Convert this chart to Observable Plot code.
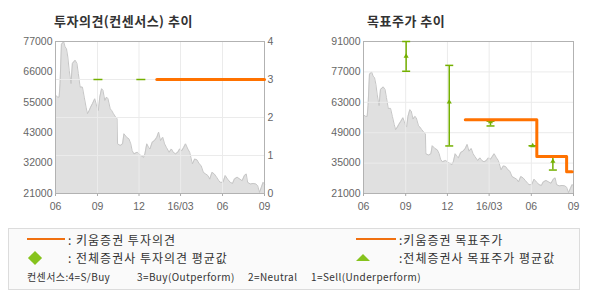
<!DOCTYPE html>
<html><head><meta charset="utf-8">
<script src="https://cdn.jsdelivr.net/npm/d3@7"></script>
<script src="https://cdn.jsdelivr.net/npm/@observablehq/plot@0.6"></script>
<style>
body{margin:0;width:590px;height:300px;position:relative;background:#fff;font-family:"Noto Sans CJK KR",sans-serif;overflow:hidden}
.abs{position:absolute}
.title{font-size:13px;font-weight:bold;color:#333;line-height:14px;white-space:pre;letter-spacing:0.5px}
.leg{font-size:12px;color:#333;line-height:13px;white-space:pre;letter-spacing:1px}
.leg3{font-size:10px;color:#333;line-height:12px;white-space:pre;letter-spacing:0.4px}
</style></head><body>
<div id="left1" class="abs" style="left:0;top:0"></div>
<div id="left2" class="abs" style="left:0;top:0"></div>
<div id="right1" class="abs" style="left:295px;top:0"></div>
<div class="abs title" style="left:54px;top:14px">투자의견(컨센서스) 추이</div>
<div class="abs title" style="left:367px;top:14px">목표주가 추이</div>
<div class="abs" style="left:8px;top:228px;width:570px;height:60px;border:1px solid #dcdcdc;background:#fafafa"></div>
<div class="abs" style="left:27px;top:238px;width:38px;height:2px;background:#f07010"></div>
<div class="abs leg" style="left:68px;top:233px">: 키움증권 투자의견</div>
<div class="abs" style="left:30px;top:253px;width:10px;height:10px;background:#86c31d;transform:rotate(45deg)"></div>
<div class="abs leg" style="left:68px;top:251px">: 전체증권사 투자의견 평균값</div>
<div class="abs" style="left:356px;top:238px;width:40px;height:2px;background:#f07010"></div>
<div class="abs leg" style="left:399px;top:233px">:키움증권 목표주가</div>
<div class="abs" style="left:356px;top:254px;width:0;height:0;border-left:7px solid transparent;border-right:7px solid transparent;border-bottom:7px solid #86c31d"></div>
<div class="abs leg" style="left:399px;top:251px">:전체증권사 목표주가 평균값</div>
<div class="abs leg3" style="left:27px;top:271px">컨센서스:4=S/Buy</div>
<div class="abs leg3" style="left:137px;top:271px">3=Buy(Outperform)</div>
<div class="abs leg3" style="left:248px;top:271px">2=Neutral</div>
<div class="abs leg3" style="left:311px;top:271px">1=Sell(Underperform)</div>
<script>
// ---- data ----
const priceDates = ["2015-06-01","2015-06-06","2015-06-09","2015-06-11","2015-06-14","2015-06-19","2015-06-22","2015-06-25","2015-06-28","2015-07-01","2015-07-05","2015-07-08","2015-07-14","2015-07-18","2015-07-21","2015-07-25","2015-07-30","2015-08-03","2015-08-07","2015-08-10","2015-08-14","2015-08-17","2015-08-21","2015-08-26","2015-08-31","2015-09-03","2015-09-06","2015-09-10","2015-09-13","2015-09-17","2015-09-21","2015-09-24","2015-09-29","2015-10-02","2015-10-06","2015-10-11","2015-10-14","2015-10-15","2015-10-21","2015-10-26","2015-10-29","2015-11-04","2015-11-09","2015-11-13","2015-11-16","2015-11-20","2015-11-27","2015-12-05","2015-12-11","2015-12-14","2015-12-18","2015-12-22","2015-12-25","2015-12-30","2016-01-04","2016-01-09","2016-01-13","2016-01-17","2016-01-22","2016-01-26","2016-01-30","2016-02-05","2016-02-10","2016-02-14","2016-02-19","2016-02-24","2016-02-28","2016-03-04","2016-03-08","2016-03-12","2016-03-17","2016-03-21","2016-03-27","2016-04-01","2016-04-06","2016-04-11","2016-04-15","2016-04-20","2016-04-25","2016-04-30","2016-05-04","2016-05-09","2016-05-14","2016-05-19","2016-05-24","2016-05-27","2016-06-02","2016-06-07","2016-06-12","2016-06-18","2016-06-23","2016-06-27","2016-07-03","2016-07-09","2016-07-14","2016-07-19","2016-07-23","2016-07-26","2016-08-01","2016-08-07","2016-08-13","2016-08-17","2016-08-21","2016-08-25","2016-08-29","2016-09-01"];
const priceValues = [57200,56500,56500,61500,76000,76900,75000,74400,71300,66400,61500,68900,70100,68900,65200,60200,60200,56500,52800,50400,51600,52800,54100,55900,52800,51600,56500,59600,59000,55300,56500,55900,52200,51600,50400,49100,48500,39300,38700,39300,43000,41700,41100,39300,36800,35600,36200,35000,34300,35600,39300,38000,37400,39900,40500,41700,43600,40500,41700,39300,38000,36200,37400,36200,35600,36200,37400,36800,38000,39300,37400,36200,31900,33700,33400,31900,31300,28800,28200,27600,26300,28800,28200,27000,25700,25100,25100,27600,26300,25100,24700,26300,27000,26300,25700,27600,28200,25100,24500,24700,24500,23900,21400,23200,25100,24500];

const kiwoomOpDates = ["2016-01-09","2016-09-01"];
const kiwoomOpValues = [3,3];

const kiwoomTgtDates = ["2016-01-09","2016-06-13","2016-08-17","2016-08-29"];
const kiwoomTgtValues = [55000,38000,31000,31000];

const consDates = ["2015-09-02","2015-12-05","2016-03-04","2016-06-04","2016-07-18"];
const consOpinion = [3,3,3,3,3];
const consTgtHi = [91000,80000,54300,43000,38000];
const consTgtLo = [77300,42900,52100,43000,31800];
const consTgtAvg = [84200,63100,54000,43000,35800];

const xTickDates = ["2015-06-01","2015-09-01","2015-12-01","2016-03-01","2016-06-01","2016-09-01"];
const xTickLabels = ["06","09","12","16/03","06","09"];
const leftTicks = [21000,32200,43400,54600,65800,77000];
const leftTickLabels = ["21000","32000","43000","55000","66000","77000"];
const opTicks = [0,1,2,3,4];
const rightTicks = [21000,35000,49000,63000,77000,91000];

// ---- build ----
const parse = d3.utcParse("%Y-%m-%d");
const price = priceDates.map((d,i)=>({date:parse(d), price:priceValues[i]}));
const kOp = kiwoomOpDates.map((d,i)=>({date:parse(d), v:kiwoomOpValues[i]}));
const kTgt = kiwoomTgtDates.map((d,i)=>({date:parse(d), v:kiwoomTgtValues[i]}));
const cons = consDates.map((d,i)=>({date:parse(d), op:consOpinion[i], hi:consTgtHi[i], lo:consTgtLo[i], avg:consTgtAvg[i]}));
const xTicks = xTickDates.map(parse);
const xInner = xTicks.slice(1,-1);
const xLab = new Map(xTicks.map((d,i)=>[+d, xTickLabels[i]]));
const yLab = new Map(leftTicks.map((d,i)=>[d, leftTickLabels[i]]));
const xDomain = [xTicks[0], xTicks[xTicks.length-1]];

const orange = "#ff7200", green = "#74b000", gridC = "#ebebeb", frameC = "#b2b2b2", areaC = "#e0e0e0", lineC = "#c6c6c6";
const hline = {draw(ctx, size){const r = Math.sqrt(size/Math.PI); ctx.moveTo(-r,0); ctx.lineTo(r,0);}};
const baseStyle = {fontFamily:"'Liberation Sans', Arial, sans-serif", fontSize:"10.5px", color:"#666", background:"transparent", overflow:"visible"};
const dims = {width:300, height:215, marginLeft:55, marginRight:36, marginTop:41, marginBottom:22};

document.getElementById("left1").append(Plot.plot({
  ...dims, style: baseStyle,
  x:{type:"utc", domain:xDomain},
  y:{domain:[21000,77000]},
  marks:[
    Plot.areaY(price,{x:"date", y:"price", fill:areaC, clip:true}),
    Plot.lineY(price,{x:"date", y:"price", stroke:lineC, strokeWidth:1}),
    Plot.axisY({ticks:leftTicks, tickFormat:d=>yLab.get(d), tickSize:0, tickPadding:3, label:null, fill:"#666"}),
    Plot.axisX({ticks:xTicks, tickFormat:d=>xLab.get(+d), tickSize:3, tickPadding:6, label:null, stroke:"#aaa", fill:"#666"})
  ]
}));

document.getElementById("left2").append(Plot.plot({
  ...dims, style: baseStyle,
  x:{type:"utc", domain:xDomain, axis:null},
  y:{domain:[0,4]},
  marks:[
    Plot.ruleY([1,2,3],{stroke:gridC}),
    Plot.ruleX(xInner,{stroke:gridC}),
    Plot.frame({stroke:frameC}),
    Plot.dot(cons,{x:"date", y:"op", symbol:hline, r:4.5, stroke:green, strokeWidth:1.5, fill:"none"}),
    Plot.line(kOp,{x:"date", y:"v", stroke:orange, strokeWidth:3}),
    Plot.axisY({anchor:"right", ticks:opTicks, tickFormat:d=>String(d), tickSize:0, tickPadding:3, label:null, fill:"#666"})
  ]
}));

document.getElementById("right1").append(Plot.plot({
  width:295, height:215, marginLeft:68, marginRight:17, marginTop:41, marginBottom:22,
  style: baseStyle,
  x:{type:"utc", domain:xDomain},
  y:{domain:[21000,91000]},
  marks:[
    Plot.areaY(price,{x:"date", y:"price", fill:areaC, clip:true}),
    Plot.lineY(price,{x:"date", y:"price", stroke:lineC, strokeWidth:1}),
    Plot.ruleY(rightTicks.slice(1,-1),{stroke:gridC}),
    Plot.ruleX(xInner,{stroke:gridC}),
    Plot.frame({stroke:frameC}),
    Plot.ruleX(cons,{x:"date", y1:"lo", y2:"hi", stroke:green, strokeWidth:1.5}),
    Plot.dot(cons,{x:"date", y:"hi", symbol:hline, r:4, stroke:green, strokeWidth:1.5, fill:"none"}),
    Plot.dot(cons,{x:"date", y:"lo", symbol:hline, r:4, stroke:green, strokeWidth:1.5, fill:"none"}),
    Plot.dot(cons,{x:"date", y:"avg", symbol:"triangle", r:1.9, fill:green, stroke:"none"}),
    Plot.line(kTgt,{x:"date", y:"v", curve:"step-after", stroke:orange, strokeWidth:3}),
    Plot.axisY({ticks:rightTicks, tickFormat:d=>String(d), tickSize:0, tickPadding:3, label:null, fill:"#666"}),
    Plot.axisX({ticks:xTicks, tickFormat:d=>xLab.get(+d), tickSize:3, tickPadding:6, label:null, stroke:"#aaa", fill:"#666"})
  ]
}));
</script>
</body></html>
